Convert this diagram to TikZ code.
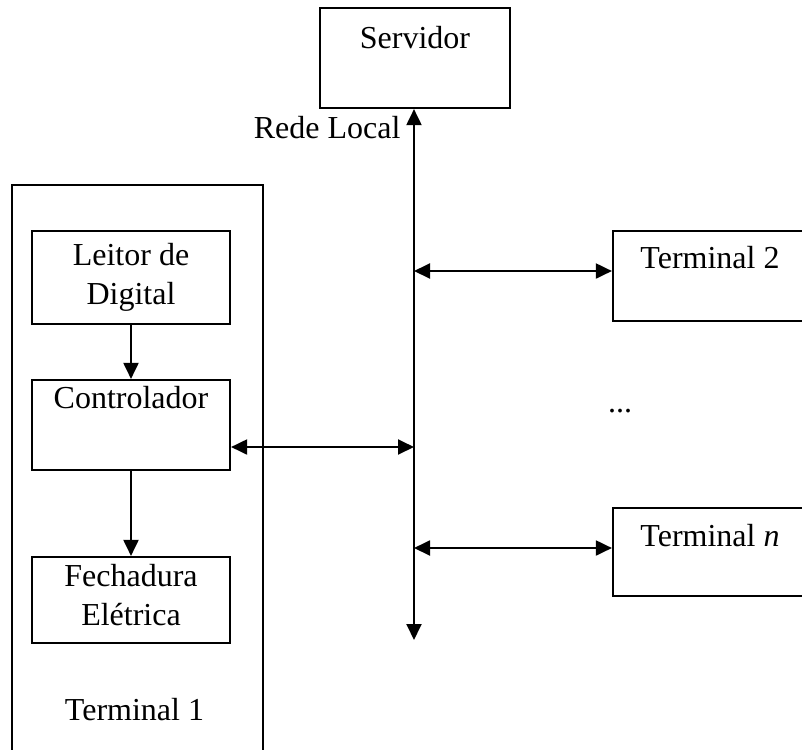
\documentclass[12pt,tikz,border=0pt]{standalone}
\usepackage{fontspec}
\setmainfont{Liberation Serif}
\usetikzlibrary{arrows.meta}
\tikzstyle{bloco}=[
        draw,
        line width=0.8pt,
        minimum width=74.25pt,
        inner sep=0pt
]
\tikzstyle{rotulo}=[
        anchor=base,
        align=center,
        inner sep=0pt
]
\tikzstyle{seta}=[
        line width=0.8pt,
        -{Triangle[length=6pt,width=5.6pt]}
]
\tikzstyle{setadupla}=[
        line width=0.8pt,
        {Triangle[length=6pt,width=5.6pt]}-{Triangle[length=6pt,width=5.6pt]}
]

\begin{document}
\begin{tikzpicture}[x=0.375pt,y=-0.375pt]
        \useasboundingbox (0,0) rectangle (802,749);
        \clip (0,0) rectangle (802,749);

        % servidor e rede
        \node[bloco, minimum width=71.25pt, minimum height=37.5pt] (serv) at (415,58) {};
        \node[rotulo] (servtxt) at (415,48) {Servidor};
        \node[rotulo, anchor=base east] (rede) at (401,138) {Rede Local};
        \coordinate (busfim) at (414,640);
        \coordinate (bus1) at (414,447);
        \coordinate (bus2) at (414,271);
        \coordinate (busn) at (414,548);

        % terminal 1
        \node[bloco, minimum width=94.1pt, minimum height=215.6pt] (term1) at (137.5,472.5) {};
        \node[bloco, minimum height=34.9pt] (leitor) at (131,277.5) {};
        \node[rotulo] (leitortxt) at (131,304) {Leitor de\\Digital};
        \node[bloco, minimum height=33.75pt] (ctrl) at (131,425) {};
        \node[rotulo] (ctrltxt) at (131,408) {Controlador};
        \node[bloco, minimum height=32.25pt] (fech) at (131,600) {};
        \node[rotulo] (fechtxt) at (131,625) {Fechadura\\Elétrica};
        \node[rotulo] (t1txt) at (134.5,720) {Terminal 1};

        % demais terminais
        \node[bloco, minimum height=33.75pt] (term2) at (712,276) {};
        \node[rotulo] (term2txt) at (710,268) {Terminal 2};
        \node[rotulo] (dots) at (620,412) {...};
        \node[bloco, minimum height=33pt] (termn) at (712,552) {};
        \node[rotulo] (termntxt) at (710,546) {Terminal \textit{n}};

        \draw[setadupla] (serv.south -| busfim) -- (busfim);
        \draw[seta] (leitor) -- (ctrl);
        \draw[seta] (ctrl) -- (fech);
        \draw[setadupla] (ctrl.east |- bus1) -- (bus1);
        \draw[setadupla] (bus2) -- (term2.west |- bus2);
        \draw[setadupla] (busn) -- (termn.west |- busn);
\end{tikzpicture}
\end{document}
